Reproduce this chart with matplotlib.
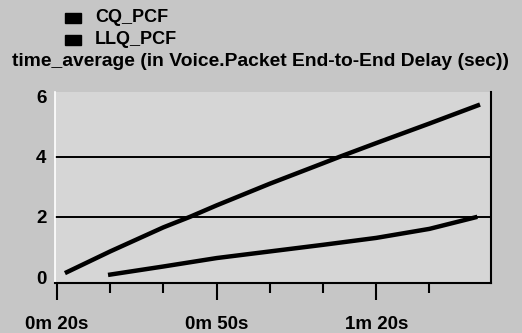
import matplotlib
matplotlib.use('Agg')
import matplotlib.pyplot as plt
from matplotlib.patches import Rectangle
from matplotlib.ticker import FixedLocator

# time in seconds, values in sec
cq_time = [21.5, 30, 40, 45, 50, 60, 70, 73.2, 80, 90, 99.5]
cq_delay = [0.13, 0.85, 1.65, 2.0, 2.38, 3.1, 3.78, 4.0, 4.45, 5.1, 5.73]
llq_time = [29.6, 40, 50, 60, 70, 80, 90, 99]
llq_delay = [0.07, 0.35, 0.63, 0.85, 1.07, 1.3, 1.6, 2.0]

series_names = ['CQ_PCF', 'LLQ_PCF']
y_ticks = [0, 2, 4, 6]
x_major = [20, 50, 80]
x_minor = [30, 40, 60, 70, 90]
x_labels = ['0m 20s', '0m 50s', '1m 20s']

plt.rcParams['font.family'] = ['Liberation Sans', 'DejaVu Sans']

fig = plt.figure(figsize=(5.22, 3.33), dpi=100, facecolor='#c6c6c6')
ax = fig.add_axes([0.105, 0.150, 0.836, 0.574], facecolor='#d6d6d6')

# grid lines only at 2 and 4
for g in [2, 4]:
    ax.axhline(g, color='black', lw=1.4, zorder=1)

ax.plot(cq_time, cq_delay, color='black', lw=3.2, solid_capstyle='butt', zorder=2)
ax.plot(llq_time, llq_delay, color='black', lw=3.2, solid_capstyle='butt', zorder=2)

ax.set_xlim(19.6, 101.6)
ax.set_ylim(-0.2, 6.15)

ax.xaxis.set_major_locator(FixedLocator(x_major))
ax.set_xticklabels(x_labels)
ax.xaxis.set_minor_locator(FixedLocator(x_minor))
ax.set_yticks(y_ticks)

ax.tick_params(axis='x', which='major', length=12, width=1.5, direction='out',
               labelsize=13.5, pad=12, color='black')
ax.tick_params(axis='x', which='minor', length=7, width=1.5, direction='out', color='black')
ax.tick_params(axis='y', length=0, labelsize=13.5, pad=6)
for lab in ax.get_xticklabels() + ax.get_yticklabels():
    lab.set_fontweight('bold')

ax.spines['top'].set_visible(False)
ax.spines['left'].set_color('white')
ax.spines['left'].set_linewidth(1.2)
ax.spines['bottom'].set_linewidth(1.5)
ax.spines['right'].set_linewidth(1.5)

# legend-like entries and title text
for i, name in enumerate(series_names):
    yc = 1 - (18 + 22 * i) / 333
    fig.patches.append(Rectangle((65 / 522, yc - 5 / 333), 16 / 522, 10 / 333,
                                 transform=fig.transFigure, color='black'))
    fig.text(95 / 522, yc, name, fontsize=13, fontweight='bold', va='center', ha='left')
fig.text(12 / 522, 1 - 62 / 333, 'time_average (in Voice.Packet End-to-End Delay (sec))',
         fontsize=13.9, fontweight='bold', va='center', ha='left')

fig.savefig('out.png', dpi=100, facecolor=fig.get_facecolor())
